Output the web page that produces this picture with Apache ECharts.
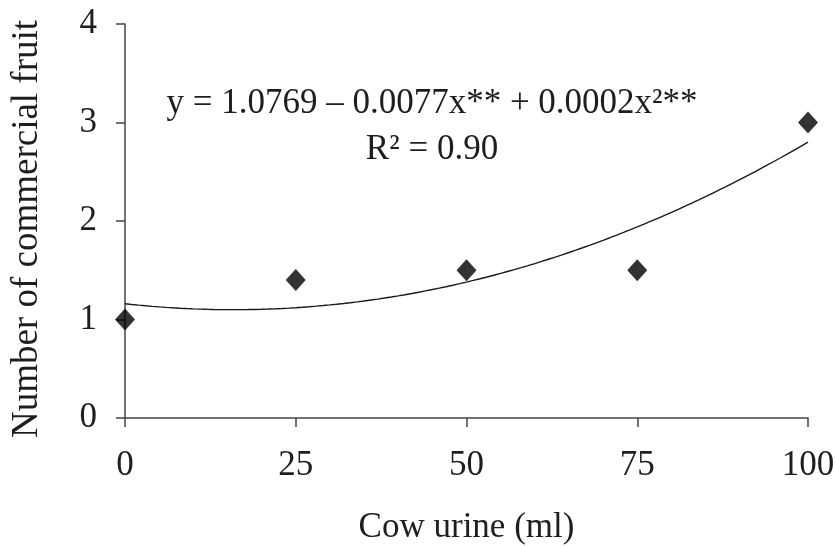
<!DOCTYPE html>
<html>
<head>
<meta charset="utf-8">
<script src="https://cdn.jsdelivr.net/npm/echarts@6/dist/echarts.min.js"></script>
<style>
  html, body { margin: 0; padding: 0; background: #fff; }
  #chart { width: 835px; height: 547px; }
</style>
</head>
<body>
<div id="chart"></div>
<script>
// Cow urine dose (ml) and number of commercial fruit
const doses = [0, 25, 50, 75, 100];
const fruitCounts = [1.0, 1.4, 1.5, 1.5, 3.0];
const xTicks = [0, 25, 50, 75, 100];
const yTicks = [0, 1, 2, 3, 4];
const xTitle = 'Cow urine (ml)';
const yTitle = 'Number of commercial fruit';
const equationText = 'y = 1.0769 – 0.0077x** + 0.0002x²**';
const r2Text = 'R² = 0.90';

// Least-squares quadratic trend line through the observed points
function quadFit(xs, ys) {
  let n = xs.length, s = [0, 0, 0, 0, 0], t = [0, 0, 0];
  for (let i = 0; i < n; i++) {
    let p = 1;
    for (let k = 0; k < 5; k++) { s[k] += p; if (k < 3) t[k] += p * ys[i]; p *= xs[i]; }
  }
  const M = [[s[0], s[1], s[2], t[0]], [s[1], s[2], s[3], t[1]], [s[2], s[3], s[4], t[2]]];
  for (let c = 0; c < 3; c++) {
    for (let r = c + 1; r < 3; r++) {
      const f = M[r][c] / M[c][c];
      for (let k = c; k < 4; k++) M[r][k] -= f * M[c][k];
    }
  }
  const coef = [0, 0, 0];
  for (let r = 2; r >= 0; r--) {
    let v = M[r][3];
    for (let k = r + 1; k < 3; k++) v -= M[r][k] * coef[k];
    coef[r] = v / M[r][r];
  }
  return coef;
}
const coef = quadFit(doses, fruitCounts);
const trend = [];
for (let x = xTicks[0]; x <= xTicks[xTicks.length - 1]; x += 1) {
  trend.push([x, coef[0] + coef[1] * x + coef[2] * x * x]);
}

const font = 'Liberation Serif';
const axisColor = '#444';
const textColor = '#1e1e1e';

const chart = echarts.init(document.getElementById('chart'));
chart.setOption({
  animation: false,
  backgroundColor: '#fff',
  grid: { left: 125, right: 27, top: 24, bottom: 129, containLabel: false, outerBoundsMode: 'none' },
  xAxis: {
    type: 'value',
    min: xTicks[0], max: xTicks[xTicks.length - 1], interval: 25,
    name: xTitle, nameLocation: 'middle', nameGap: 92,
    nameTextStyle: { fontFamily: font, fontSize: 35, color: textColor },
    axisLine: { onZero: false, lineStyle: { color: axisColor, width: 1.5 } },
    axisTick: { show: true, length: 9, lineStyle: { color: axisColor, width: 1.5 } },
    axisLabel: { margin: 30, fontFamily: font, fontSize: 35, color: textColor },
    splitLine: { show: false }
  },
  yAxis: {
    type: 'value',
    min: yTicks[0], max: yTicks[yTicks.length - 1], interval: 1,
    axisLine: { show: true, lineStyle: { color: axisColor, width: 1.5 } },
    axisTick: { show: true, length: 9, lineStyle: { color: axisColor, width: 1.5 } },
    axisLabel: { margin: 28, fontFamily: font, fontSize: 35, color: textColor },
    splitLine: { show: false }
  },
  series: [
    {
      type: 'line',
      data: trend,
      showSymbol: false,
      lineStyle: { color: '#1a1a1a', width: 1.4 },
      z: 2
    },
    {
      type: 'scatter',
      data: doses.map((d, i) => [d, fruitCounts[i]]),
      symbol: 'diamond',
      symbolSize: [20, 22],
      itemStyle: { color: '#000' },
      z: 3
    }
  ],
  graphic: [
    {
      type: 'text', x: 27, y: 229, rotation: Math.PI / 2,
      style: { text: yTitle, fontFamily: font, fontSize: 37, fill: textColor,
               align: 'center', verticalAlign: 'middle' }
    },
    {
      type: 'text', x: 432, y: 104,
      style: { text: equationText, fontFamily: font, fontSize: 35, fill: textColor,
               align: 'center', verticalAlign: 'middle' }
    },
    {
      type: 'text', x: 432, y: 150,
      style: { text: r2Text, fontFamily: font, fontSize: 35, fill: textColor,
               align: 'center', verticalAlign: 'middle' }
    }
  ]
});
</script>
</body>
</html>
